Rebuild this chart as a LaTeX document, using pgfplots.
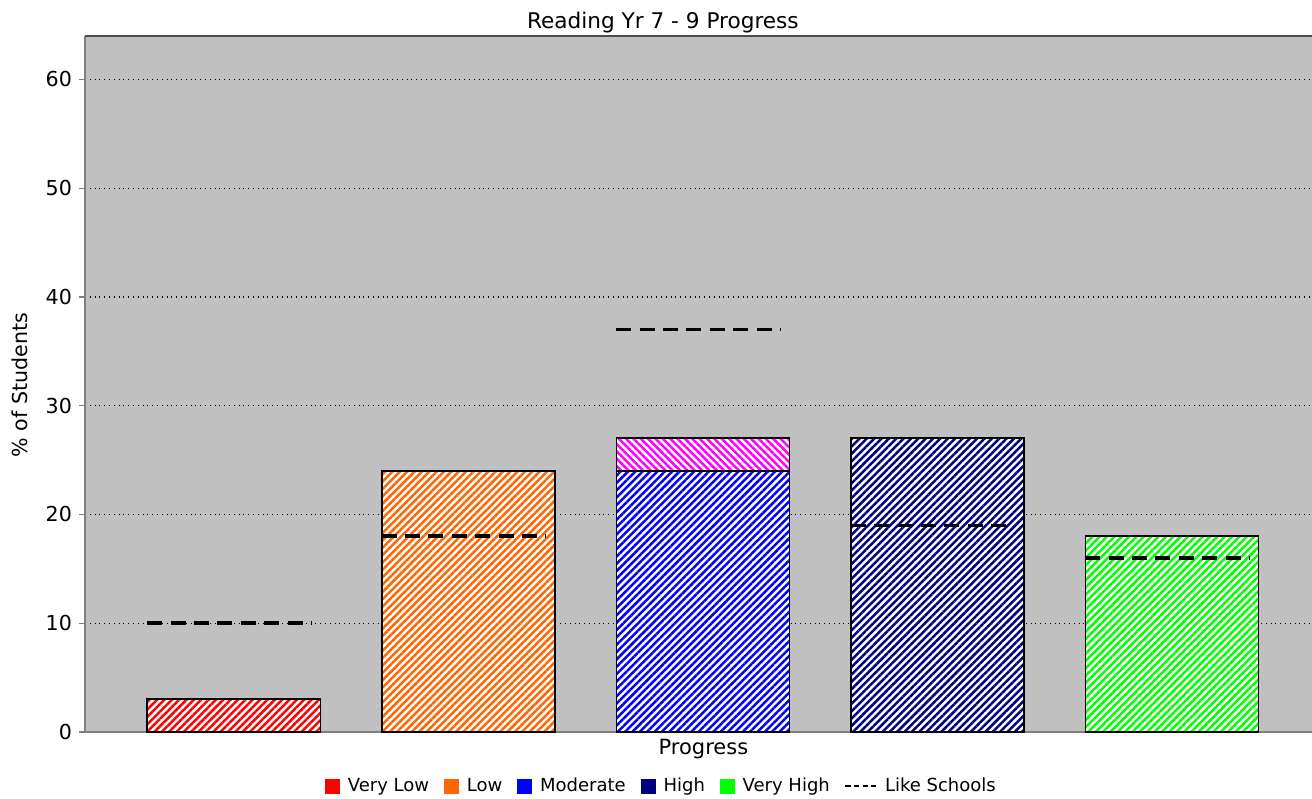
\documentclass[border=0pt]{standalone}
\usepackage{pgfplots}
\pgfplotsset{compat=1.18}
\usepackage{fontspec}
\setmainfont{DejaVu Sans}
\usetikzlibrary{patterns.meta}
\definecolor{plotbg}{HTML}{C0C0C0}
\definecolor{vlow}{HTML}{FF0000}
\definecolor{low}{HTML}{FF6600}
\definecolor{moder}{HTML}{0000FF}
\definecolor{high}{HTML}{000080}
\definecolor{vhigh}{HTML}{00FF00}
\definecolor{mag}{HTML}{FF00FF}
\pgfplotsset{
  hbar/.style={ybar, bar width=0.738, bar shift=0pt, draw=black, line width=0.9pt, fill=white,
    postaction={pattern={Lines[angle=45,distance=2.6pt,line width=1.25pt]}, pattern color=#1}, forget plot},
  hbarw/.style={ybar, bar width=0.738, bar shift=0pt, draw=black, line width=0.9pt, fill=white,
    postaction={pattern={Lines[angle=-45,distance=2.6pt,line width=1.25pt]}, pattern color=#1}, forget plot},
  like/.style={black, line width=1.8pt, dash pattern=on 7.5pt off 4.2pt, sharp plot, no marks, forget plot},
  sqleg/.style={legend image code/.code={\fill[#1] (0pt,-3.5pt) rectangle (7pt,3.5pt);}}
}
\begin{document}
\begin{tikzpicture}
\path[use as bounding box] (-42.5pt,-33pt) rectangle (613.5pt,366pt);
\begin{axis}[
  at={(0,0)}, anchor=south west,
  scale only axis, width=613.5pt, height=348pt,
  xmin=-0.635, xmax=4.597, ymin=0, ymax=64,
  ytick={0,10,20,30,40,50,60},
  xtick=\empty,
  axis background/.style={fill=plotbg},
  axis x line*=bottom, axis y line*=left,
  axis line style={draw=gray, line width=0.8pt},
  tick style={draw=gray, line width=0.6pt},
  /pgf/number format/assume math mode=true,
  y tick label style={font=\fontsize{10.3}{12}\selectfont},
  ymajorgrids, major grid style={black, dotted, line width=0.7pt},
  tick align=outside, major tick length=3pt,
  title={Reading Yr 7 - 9 Progress},
  title style={font=\fontsize{10.8}{12}\selectfont, at={(axis description cs:0.471,1.002)}, anchor=center},
  xlabel={Progress},
  xlabel style={font=\fontsize{10.5}{12}\selectfont, at={(axis description cs:0.504,-0.025)}, anchor=center},
  ylabel={\% of Students},
  ylabel style={font=\fontsize{10.3}{12}\selectfont, at={(axis description cs:-0.053,0.4986)}, anchor=center},
  legend style={at={(axis description cs:0.469,-0.0776)}, anchor=center, draw=none, fill=none,
    font=\fontsize{9}{10}\selectfont, legend columns=6,
    nodes={inner sep=0pt},
    /tikz/every odd column/.append style={column sep=4pt},
    /tikz/every even column/.append style={column sep=7.5pt}},
  legend cell align=left,
  clip=false,
]
\draw[gray!60!black, line width=0.8pt] (rel axis cs:0,1) -- (rel axis cs:1,1);
% bars
\addplot[hbar=vlow] coordinates {(0,3)};
\addplot[hbar=low] coordinates {(1,24)};
\addplot[hbarw=mag] coordinates {(2,27)};
\addplot[hbar=moder] coordinates {(2,24)};
\addplot[hbar=high] coordinates {(3,27)};
\addplot[hbar=vhigh] coordinates {(4,18)};
% like schools
\addplot[like] coordinates {(-0.37,10) (0.33,10)};
\addplot[like] coordinates {(0.63,18) (1.33,18)};
\addplot[like] coordinates {(1.63,37) (2.33,37)};
\addplot[like] coordinates {(2.63,19) (3.33,19)};
\addplot[like] coordinates {(3.63,16) (4.33,16)};
% legend
\addlegendimage{sqleg=vlow}
\addlegendentry{Very Low}
\addlegendimage{sqleg=low}
\addlegendentry{Low}
\addlegendimage{sqleg=moder}
\addlegendentry{Moderate}
\addlegendimage{sqleg=high}
\addlegendentry{High}
\addlegendimage{sqleg=vhigh}
\addlegendentry{Very High}
\addlegendimage{legend image code/.code={\draw[black, line width=0.6pt, dash pattern=on 2.6pt off 1.7pt] (0pt,0pt) -- (15.5pt,0pt);}}
\addlegendentry{Like Schools}
\end{axis}
\end{tikzpicture}
\end{document}
